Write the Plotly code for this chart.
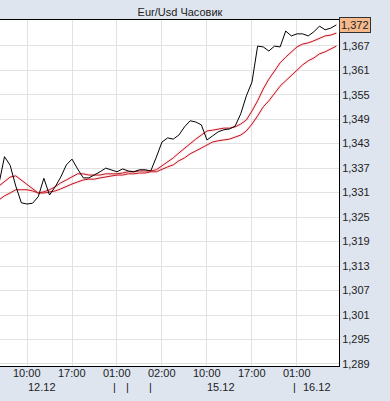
import plotly.graph_objects as go

# ---------------- data ----------------
bar_index = list(range(61))

price = [1.3331, 1.3398, 1.3377, 1.3326, 1.3285, 1.3282, 1.3284, 1.3300, 1.3345, 1.3304,
         1.3324, 1.3348, 1.3378, 1.3392, 1.3368, 1.3346, 1.3346, 1.3353, 1.3361, 1.3370,
         1.3366, 1.3361, 1.3368, 1.3363, 1.3361, 1.3366, 1.3366, 1.3363, 1.3397, 1.3434,
         1.3444, 1.3441, 1.3451, 1.3471, 1.3486, 1.3483, 1.3476, 1.3439, 1.3449, 1.3459,
         1.3464, 1.3466, 1.3473, 1.3503, 1.3547, 1.3581, 1.3669, 1.3667, 1.3657, 1.3669,
         1.3667, 1.3706, 1.3694, 1.3699, 1.3699, 1.3694, 1.3704, 1.3718, 1.3709, 1.3713,
         1.3721]

ma_fast = [1.3326, 1.3336, 1.3348, 1.3351, 1.3341, 1.3329, 1.3319, 1.3309, 1.3312, 1.3317,
           1.3324, 1.3334, 1.3341, 1.3348, 1.3356, 1.3356, 1.3353, 1.3353, 1.3353, 1.3356,
           1.3356, 1.3356, 1.3358, 1.3361, 1.3361, 1.3363, 1.3363, 1.3363, 1.3366, 1.3375,
           1.3385, 1.3395, 1.3407, 1.3419, 1.3429, 1.3441, 1.3451, 1.3461, 1.3463, 1.3466,
           1.3468, 1.3468, 1.3471, 1.3478, 1.3488, 1.3510, 1.3535, 1.3564, 1.3588, 1.3608,
           1.3628, 1.3642, 1.3655, 1.3667, 1.3674, 1.3677, 1.3682, 1.3689, 1.3694, 1.3696,
           1.3701]

ma_slow = [1.3292, 1.3302, 1.3309, 1.3317, 1.3317, 1.3317, 1.3314, 1.3309, 1.3309, 1.3312,
           1.3314, 1.3319, 1.3326, 1.3331, 1.3336, 1.3341, 1.3343, 1.3343, 1.3346, 1.3348,
           1.3351, 1.3353, 1.3353, 1.3356, 1.3356, 1.3358, 1.3358, 1.3361, 1.3361, 1.3368,
           1.3373, 1.3378, 1.3388, 1.3395, 1.3405, 1.3412, 1.3419, 1.3427, 1.3434, 1.3437,
           1.3439, 1.3441, 1.3446, 1.3451, 1.3461, 1.3478, 1.3498, 1.3520, 1.3535, 1.3554,
           1.3571, 1.3584, 1.3596, 1.3610, 1.3623, 1.3633, 1.3640, 1.3650, 1.3655, 1.3662,
           1.3669]

time_tick_index = [5, 13, 21, 29, 37, 45, 53]
time_tick_labels = ["10:00", "17:00", "01:00", "02:00", "10:00", "17:00", "01:00"]

date_label_index = [7.7, 39.5, 56.6]
date_labels = ["12.12", "15.12", "16.12"]
day_separator_index = [20.6, 22.8, 27.0, 52.6]

y_ticks = [1.289, 1.295, 1.301, 1.307, 1.313, 1.319, 1.325, 1.331, 1.337, 1.343,
           1.349, 1.355, 1.361, 1.367]

title_text = "Eur/Usd Часовик"

# ---------------- figure ----------------
FONT = "Liberation Sans, Arial, sans-serif"
RED = "#c0141e"
GLOW = "rgba(240,120,130,0.16)"
GRID = "#e2e2e2"
BG = "#dee5ef"

fig = go.Figure()
for ma in (ma_slow, ma_fast):
    fig.add_trace(go.Scatter(x=bar_index, y=ma, mode="lines",
                             line=dict(color=GLOW, width=3), hoverinfo="skip"))
    fig.add_trace(go.Scatter(x=bar_index, y=ma, mode="lines",
                             line=dict(color=RED, width=1)))
fig.add_trace(go.Scatter(x=bar_index, y=price, mode="lines",
                         line=dict(color="#000000", width=1)))

annotations = []
for xi, lab in zip(time_tick_index, time_tick_labels):
    annotations.append(dict(x=xi, y=0, xref="x", yref="paper", text=lab,
                            showarrow=False, xanchor="center", yanchor="middle",
                            yshift=-7, font=dict(family=FONT, size=11, color="#222")))
for xi, lab in zip(date_label_index, date_labels):
    annotations.append(dict(x=xi, y=0, xref="x", yref="paper", text=lab,
                            showarrow=False, xanchor="center", yanchor="middle",
                            yshift=-21, font=dict(family=FONT, size=11, color="#222")))
for xi in day_separator_index:
    annotations.append(dict(x=xi, y=0, xref="x", yref="paper", text="|",
                            showarrow=False, xanchor="center", yanchor="middle",
                            yshift=-21, font=dict(family=FONT, size=11, color="#222")))

last_val = price[-1]
annotations.append(dict(x=1, y=last_val, xref="paper", yref="y",
                        text=f"{last_val:.3f}".replace(".", ","),
                        showarrow=False, xanchor="left", yanchor="middle",
                        bgcolor="#f6b98c", bordercolor="#333333", borderwidth=1,
                        borderpad=1, font=dict(family=FONT, size=11, color="#222")))

fig.update_layout(
    width=390, height=401,
    margin=dict(l=0, r=51, t=20, b=35),
    paper_bgcolor=BG, plot_bgcolor="#ffffff",
    separators=",.",
    showlegend=False,
    title=dict(text=title_text, x=0.531, xref="paper", xanchor="center",
               y=1 - 12 / 401, yref="container", yanchor="middle",
               font=dict(family=FONT, size=11, color="#222")),
    annotations=annotations,
    xaxis=dict(range=[0.2, 60.47], tickvals=time_tick_index, showticklabels=False,
               showgrid=True, gridcolor=GRID, gridwidth=1, zeroline=False,
               showline=True, linecolor="#000", linewidth=1, mirror=True, ticks=""),
    yaxis=dict(range=[1.2885, 1.3733], side="right", tickvals=y_ticks,
               tickformat=".3f", showgrid=True, gridcolor=GRID, gridwidth=1,
               zeroline=False, showline=True, linecolor="#000", linewidth=1,
               mirror=True, ticks="",
               tickfont=dict(family=FONT, size=11, color="#222")),
)

fig.write_html("out.html")
